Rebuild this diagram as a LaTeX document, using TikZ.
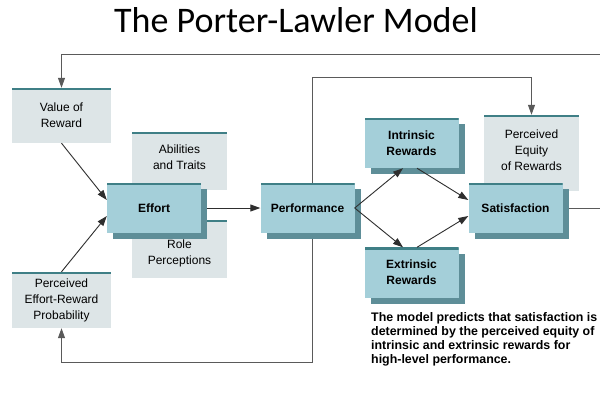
\documentclass[tikz,border=0pt]{standalone}
\usepackage{fontspec}
\setmainfont{Liberation Sans}
\newfontfamily\titlefont{Carlito}
\usetikzlibrary{arrows.meta, shadows}
\definecolor{tealfill}{HTML}{A4CFD9}
\definecolor{greyfill}{HTML}{DDE5E7}
\definecolor{shadowc}{HTML}{5E8E98}
\definecolor{edgec}{HTML}{3F7F86}
\definecolor{linec}{HTML}{2E2E2E}
\definecolor{fbc}{HTML}{5A5A5A}
\tikzset{
  topedge/.style={path picture={
    \draw[edgec, line width=4pt] (path picture bounding box.north west)
      -- (path picture bounding box.north east);}}
}

\begin{document}
\begin{tikzpicture}[
    x=1pt, y=-1pt,
    >={Triangle[length=10pt,width=7pt]},
    font=\fontsize{12}{16}\selectfont,
    gbox/.style={topedge, fill=greyfill, inner sep=0pt, align=center,
      minimum width=97pt, minimum height=56pt},
    tbox/.style={topedge, fill=tealfill, inner sep=0pt, align=center,
      font=\fontsize{12}{16}\selectfont\bfseries,
      minimum width=94pt, minimum height=50pt,
      drop shadow={shadow xshift=6pt, shadow yshift=-6pt, fill=shadowc, opacity=1}},
    conn/.style={->, draw=linec, line width=0.9pt},
    fb/.style={draw=fbc, line width=1pt}
  ]
\useasboundingbox[fill=white] (0,0) rectangle (600,392);

% =================== title ===================
\node[anchor=base, font=\titlefont\fontsize{36}{40}\selectfont] (title) at (296,32)
  {The Porter-Lawler Model};

% =================== left column ===================
\node[gbox, minimum width=99pt, minimum height=55pt] (valrew) at (61.5,115.5)
  {Value of\\Reward};
\node[gbox, minimum width=99pt] (prob) at (61.5,300)
  {Perceived\\Effort-Reward\\Probability};

% abilities + role sit behind effort
\node[gbox, minimum width=95pt, minimum height=58pt,
  label={[align=center, yshift=3.5pt]center:{Abilities\\and Traits}}] (abil) at (179.5,161) {};
\node[gbox, minimum width=95pt, minimum height=58pt,
  label={[align=center, yshift=-4.5pt]center:{Role\\Perceptions}}] (role) at (179.5,249) {};
\node[tbox] (effort) at (154,208) {Effort};

% =================== middle + right ===================
\node[tbox] (perf) at (307.5,208) {Performance};
\node[tbox] (intr) at (411.5,143) {Intrinsic\\Rewards};
\node[tbox] (extr) at (411.5,272.5) {Extrinsic\\Rewards};
\node[gbox, minimum width=95pt, minimum height=76pt,
  label={[align=center, yshift=2.5pt]center:{Perceived\\Equity\\of Rewards}}] (equity) at (531.5,153) {};
\node[tbox] (satis) at (515.5,208) {Satisfaction};

% =================== connectors ===================
\draw[conn] (valrew.south) -- ([yshift=8pt]effort.west);
\draw[conn] (prob.north) -- ([yshift=-8pt]effort.west);
\draw[conn] ([xshift=6pt]effort.east) -- (perf.west);
\draw[conn] (perf.east) -- ([xshift=-8.5pt]intr.south);
\draw[conn] (perf.east) -- ([xshift=-8.5pt]extr.north);
\draw[conn] ([xshift=5.5pt]intr.south) -- ([yshift=8pt]satis.west);
\draw[conn] ([xshift=5.5pt]extr.north) -- ([yshift=-8pt]satis.west);

% feedback loops (run off the right edge)
\coordinate (edgeR) at (600,208);
\coordinate (edgeT) at (600,54);
\coordinate (fbB) at (61.5,362);
\draw[fb] ([xshift=6pt]satis.east) -- (edgeR);
\draw[fb, ->] (edgeT) -| (valrew.north);
\draw[fb, ->] ([xshift=4.5pt]perf.north) -- ++(0,-105) -| (equity.north);
\draw[fb, ->] ([xshift=4.5pt, yshift=-6pt]perf.south) |- (fbB) -- (prob.south);

% =================== note ===================
\node[anchor=north west, align=left, inner sep=0pt,
  font=\fontsize{12.4}{14.2}\selectfont\bfseries] (note) at (371,312)
  {The model predicts that satisfaction is\\
   determined by the perceived equity of\\
   intrinsic and extrinsic rewards for\\
   high-level performance.};

\end{tikzpicture}
\end{document}
